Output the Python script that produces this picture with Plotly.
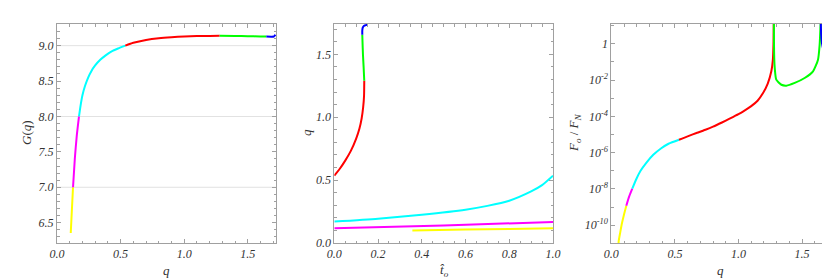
import plotly.graph_objects as go

# ---------------- data ----------------
# Panel 1: G(q) vs q
g_yellow_q = [0.108, 0.117, 0.126]
g_yellow_G = [6.355, 6.68, 7.0]
g_magenta_q = [0.126, 0.14, 0.155, 0.173]
g_magenta_G = [7.0, 7.4, 7.72, 8.0]
g_cyan_q = [0.173, 0.185, 0.2, 0.22, 0.245, 0.27, 0.3, 0.34, 0.38, 0.43, 0.48, 0.537]
g_cyan_G = [8.0, 8.15, 8.3, 8.43, 8.55, 8.64, 8.72, 8.80, 8.86, 8.92, 8.96, 9.0]
g_red_q = [0.537, 0.6, 0.7, 0.8, 0.9, 1.0, 1.1, 1.2, 1.279]
g_red_G = [9.0, 9.04, 9.08, 9.105, 9.12, 9.13, 9.135, 9.138, 9.14]
g_green_q = [1.279, 1.4, 1.5, 1.6, 1.646]
g_green_G = [9.14, 9.137, 9.133, 9.13, 9.128]
g_blue_q = [1.646, 1.69, 1.705, 1.712, 1.716]
g_blue_G = [9.128, 9.127, 9.13, 9.14, 9.155]
g_grid = [7.0, 8.0, 9.0]
g_xticks = [0.0, 0.5, 1.0, 1.5]
g_xtext = ["0.0", "0.5", "1.0", "1.5"]
g_yticks = [6.5, 7.0, 7.5, 8.0, 8.5, 9.0]
g_ytext = ["6.5", "7.0", "7.5", "8.0", "8.5", "9.0"]

# Panel 2: q vs t_o
t_red = [0.0, 0.025, 0.05, 0.075, 0.1, 0.115, 0.125, 0.132, 0.136, 0.137]
q_red = [0.535, 0.59, 0.655, 0.73, 0.83, 0.91, 0.99, 1.08, 1.17, 1.29]
t_green = [0.137, 0.134, 0.131, 0.129, 0.128]
q_green = [1.29, 1.4, 1.5, 1.6, 1.656]
t_blue = [0.128, 0.128, 0.13, 0.135, 0.142, 0.151]
q_blue = [1.656, 1.69, 1.712, 1.725, 1.731, 1.734]
t_cyan = [0.0, 0.2, 0.4, 0.6, 0.7, 0.8, 0.9, 0.95, 1.0]
q_cyan = [0.17, 0.193, 0.225, 0.265, 0.295, 0.336, 0.41, 0.46, 0.535]
t_magenta = [0.0, 0.5, 1.0]
q_magenta = [0.117, 0.14, 0.167]
t_yellow = [0.357, 0.6, 0.8, 1.0]
q_yellow = [0.10, 0.107, 0.112, 0.117]
t_xticks = [0.0, 0.2, 0.4, 0.6, 0.8, 1.0]
t_xtext = ["0.0", "0.2", "0.4", "0.6", "0.8", "1.0"]
q_yticks = [0.0, 0.5, 1.0, 1.5]
q_ytext = ["0.0", "0.5", "1.0", "1.5"]

# Panel 3: F_o/F_N vs q  (values read as exponents of ten)
f_yellow_q = [0.056, 0.058, 0.07, 0.085, 0.10, 0.118]
f_yellow_e = [-11.2, -10.88, -10.4, -9.85, -9.4, -8.92]
f_magenta_q = [0.118, 0.14, 0.165]
f_magenta_e = [-8.92, -8.42, -7.98]
f_cyan_q = [0.165, 0.197, 0.23, 0.275, 0.33, 0.39, 0.45, 0.532]
f_cyan_e = [-7.98, -7.45, -7.0, -6.56, -6.12, -5.77, -5.51, -5.29]
f_red_q = [0.532, 0.6, 0.67, 0.74, 0.8, 0.87, 0.93, 1.0, 1.035, 1.1, 1.15, 1.193, 1.23, 1.258, 1.27, 1.275, 1.277]
f_red_e = [-5.29, -5.10, -4.92, -4.74, -4.57, -4.34, -4.13, -3.88, -3.74, -3.44, -3.14, -2.72, -2.2, -1.52, -0.9, 0.0, 1.2]
f_green_q = [1.278, 1.279, 1.281, 1.285, 1.297, 1.337, 1.376, 1.442, 1.52, 1.586, 1.625, 1.638, 1.646]
f_green_e = [1.2, 0.0, -0.8, -1.34, -1.98, -2.26, -2.31, -2.16, -1.89, -1.52, -0.88, -0.05, 1.2]
f_blue_q = [1.647, 1.65, 1.656, 1.664, 1.672, 1.69, 1.703, 1.708, 1.709]
f_blue_e = [1.2, 0.5, 0.04, -0.25, -0.42, -0.79, -1.16, -1.5, -1.98]

f_tickvals = [1, 1e-2, 1e-4, 1e-6, 1e-8, 1e-10]
f_ticktext = ["1", "10<sup>-2</sup>", "10<sup>-4</sup>", "10<sup>-6</sup>",
              "10<sup>-8</sup>", "10<sup>-10</sup>"]
f_minorvals = [1e1, 1e-1, 1e-3, 1e-5, 1e-7, 1e-9, 1e-11]

# ---------------- figure ----------------
W, H = 830, 278
SERIF = "Liberation Serif, Times New Roman, DejaVu Serif, serif"
COL = {"yellow": "#ffff00", "magenta": "#ff00ff", "cyan": "#00ffff",
       "red": "#ff0000", "green": "#00ff00", "blue": "#0000ff"}
LW = 2

fig = go.Figure()

def add(x, y, color, xa, ya):
    fig.add_trace(go.Scatter(x=x, y=y, mode="lines", xaxis=xa, yaxis=ya,
                             line=dict(color=COL[color], width=LW, shape="spline", smoothing=0.6),
                             showlegend=False, hoverinfo="skip"))

add(g_yellow_q, g_yellow_G, "yellow", "x", "y")
add(g_magenta_q, g_magenta_G, "magenta", "x", "y")
add(g_cyan_q, g_cyan_G, "cyan", "x", "y")
add(g_red_q, g_red_G, "red", "x", "y")
add(g_green_q, g_green_G, "green", "x", "y")
add(g_blue_q, g_blue_G, "blue", "x", "y")

add(t_yellow, q_yellow, "yellow", "x2", "y2")
add(t_magenta, q_magenta, "magenta", "x2", "y2")
add(t_cyan, q_cyan, "cyan", "x2", "y2")
add(t_red, q_red, "red", "x2", "y2")
add(t_green, q_green, "green", "x2", "y2")
add(t_blue, q_blue, "blue", "x2", "y2")

def pw(e):
    return [10 ** v for v in e]

add(f_yellow_q, pw(f_yellow_e), "yellow", "x3", "y3")
add(f_magenta_q, pw(f_magenta_e), "magenta", "x3", "y3")
add(f_cyan_q, pw(f_cyan_e), "cyan", "x3", "y3")
add(f_red_q, pw(f_red_e), "red", "x3", "y3")
add(f_green_q, pw(f_green_e), "green", "x3", "y3")
add(f_blue_q, pw(f_blue_e), "blue", "x3", "y3")

FRAME = "#a0a0a0"
tickfont = dict(family=SERIF, size=12, color="#333333")

def it(lst):
    return ["<i>%s</i>" % s for s in lst]

def axis(domain, rng, anchor, tv, tt, minor, **kw):
    d = dict(domain=domain, range=rng, anchor=anchor, showgrid=False, zeroline=False,
             showline=True, linecolor=FRAME, linewidth=1, mirror="allticks",
             ticks="inside", ticklen=4, tickcolor=FRAME, tickwidth=1,
             tickfont=tickfont, automargin=False,
             tickmode="array", tickvals=tv, ticktext=it(tt),
             minor=dict(ticks="inside", ticklen=2.5, tickcolor=FRAME, tickwidth=1,
                        showgrid=False, dtick=minor, tick0=0))
    d.update(kw)
    return d

ydom = [1 - 235 / H, 1 - 16 / H]
x1d = [49 / W, 268 / W]
x2d = [326.3 / W, 545 / W]
x3d = [603.3 / W, 821.7 / W]

fig.update_layout(
    width=W, height=H, margin=dict(l=0, r=0, t=0, b=0),
    paper_bgcolor="white", plot_bgcolor="white",
    font=dict(family=SERIF),
    xaxis=axis(x1d, [0, 1.722], "y", g_xticks, g_xtext, 0.1),
    yaxis=axis(ydom, [6.213, 9.306], "x", g_yticks, g_ytext, 0.1),
    xaxis2=axis(x2d, [0, 1.0], "y2", t_xticks, t_xtext, 0.05),
    yaxis2=axis(ydom, [0, 1.741], "x2", q_yticks, q_ytext, 0.1),
    xaxis3=axis(x3d, [0, 1.717], "y3", g_xticks, g_xtext, 0.1),
    yaxis3=axis(ydom, [-10.975, 1.085], "x3", f_tickvals, f_ticktext, None, type="log"),
)
fig.layout.yaxis3.minor = dict(ticks="inside", ticklen=2.5, tickcolor=FRAME, tickwidth=1,
                               tickmode="array", tickvals=f_minorvals, showgrid=False)

for g in g_grid:
    fig.add_shape(type="line", xref="x domain", yref="y", x0=0, x1=1, y0=g, y1=g,
                  line=dict(color="#e2e2e2", width=1), layer="below")

titlefont = dict(family=SERIF, size=13, color="#333333")

def ann(text, px, py, rot=0):
    fig.add_annotation(text=text, xref="paper", yref="paper", x=px / W, y=1 - py / H,
                       showarrow=False, textangle=rot, font=titlefont,
                       xanchor="center", yanchor="middle")

ann("<i>G</i>(<i>q</i>)", 18, 125, -90)
ann("<i>q</i>", 158, 262)
ann("<i>q</i>", 298, 125, -90)
ann("<i>t\u0302</i><sub><i>o</i></sub>", 436, 262)
ann("<i>F</i><sub><i>o</i></sub> / <i>F</i><sub><i>N</i></sub>", 566, 125, -90)
ann("<i>q</i>", 712, 262)

fig.write_html("out.html")
